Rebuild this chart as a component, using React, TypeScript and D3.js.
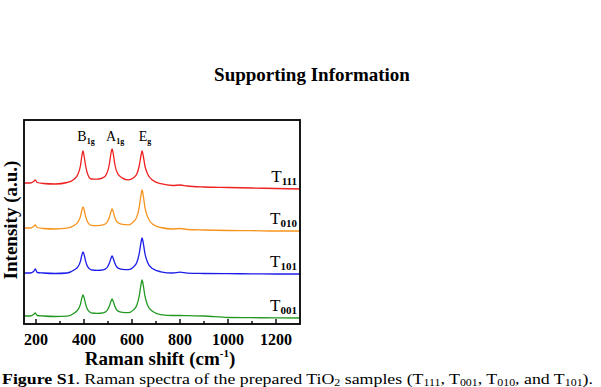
import React from 'react';
import * as d3 from 'd3';

// Raman shift grid (cm-1) shared by every spectrum
const shifts = [
  150, 175, 190, 197, 205, 230, 280, 330, 360, 375, 385, 391, 396, 401, 407, 415,
  430, 455, 480, 495, 505, 512, 517, 522, 529, 540, 560, 585, 605, 620, 630, 637,
  642, 647, 654, 665, 685, 720, 770, 800, 830, 900, 1000, 1100, 1200, 1300,
];

// stacked intensities (a.u.), offsets included
const t111 = [
  141, 141, 142.5, 144, 141.5, 140.5, 140, 141.5, 145, 150, 158, 168, 173, 167, 158, 150,
  145, 144.8, 146.3, 150.5, 159, 170, 175, 170, 159, 150.5, 145.9, 144.1, 146, 150, 158, 168,
  173, 168, 158, 150, 144, 140.3, 138.5, 139, 138, 137, 136.5, 136, 135.5, 135,
];
const t010 = [
  96, 96, 97.5, 99, 96.5, 95.5, 95, 95.8, 98.7, 102, 107.3, 113.8, 117, 113.8, 107.3, 102,
  98.7, 98.4, 99.1, 101.4, 106.2, 112.1, 115, 112.1, 106.2, 101.4, 99.6, 99.2, 101.9, 107.1, 116.7, 128.2,
  134, 128.2, 116.7, 107.1, 100, 96.5, 95, 95.5, 94.5, 94, 93.5, 93.3, 93, 93,
];
const t101 = [
  51, 51, 52.5, 55, 51.5, 51, 50.5, 51, 54.2, 57.3, 62.6, 68.9, 72, 68.9, 62.6, 57.3,
  54.2, 53.7, 54.2, 56.1, 60.4, 65.5, 68, 65.5, 60.4, 56.1, 54.6, 54.4, 56.8, 61.5, 70.3, 80.8,
  86, 80.8, 70.3, 61.5, 55.4, 52.2, 51, 51.8, 50.8, 50.5, 50.3, 50.2, 50, 50,
];
const t001 = [
  8, 8, 9.5, 11, 8.5, 8, 7.5, 7.8, 11, 14.3, 19.6, 25.9, 29, 25.9, 19.6, 14.3,
  11.2, 10.7, 11.2, 13.1, 17.4, 22.5, 25, 22.5, 17.4, 13.1, 11.6, 11.4, 13.9, 18.8, 27.8, 38.6,
  44, 38.6, 27.8, 18.8, 12.7, 9.4, 8.5, 8.5, 8.3, 8, 6.5, 6.3, 6.1, 6,
];

const sampleSubs = ['111', '010', '101', '001'];
const sampleColors = ['#ee2020', '#f7941d', '#1c1ce8', '#229922'];
const sampleData = [t111, t010, t101, t001];

// anatase modes
const modeNames = ['B', 'A', 'E'];
const modeSubs = ['1g', '1g', 'g'];
const modeShifts = [396, 517, 642];

const majorTicks = [200, 400, 600, 800, 1000, 1200];
const minorTicks = [300, 500, 700, 900, 1100];

const serif = '"Liberation Serif", "Times New Roman", serif';

const W = 601;
const H = 387;
const plot = { left: 24, right: 300, top: 120, bottom: 324 };

export default function App() {
  const x = d3.scaleLinear().domain([150, 1300]).range([plot.left, plot.right]);
  const y = d3.scaleLinear().domain([0, 204]).range([plot.bottom, plot.top]);

  const line = d3
    .line<number>()
    .x((_, i) => x(shifts[i]))
    .y((d) => y(d))
    .curve(d3.curveMonotoneX);

  return (
    <div style={{ position: 'fixed', left: 0, top: 0 }}>
      <svg width={W} height={H} style={{ display: 'block', background: '#fff' }} fontFamily={serif}>
        <text x={312} y={81} textAnchor="middle" fontSize={19} fontWeight="bold">
          Supporting Information
        </text>

        {sampleData.map((vals, i) => (
          <path key={i} d={line(vals) || ''} fill="none" stroke={sampleColors[i]} strokeWidth={1.3} />
        ))}

        {sampleData.map((vals, i) => {
          const ty = y(vals[vals.length - 1]) - 7;
          return (
            <text key={i} x={297} y={ty} textAnchor="end" fontSize={17}>
              T
              <tspan fontSize={11} fontWeight="bold" dy={3}>
                {sampleSubs[i]}
              </tspan>
            </text>
          );
        })}

        {modeNames.map((m, i) => (
          <text key={m} x={x(modeShifts[i]) + 3} y={141} textAnchor="middle" fontSize={14}>
            {m}
            <tspan fontSize={8} fontWeight="bold" dy={3}>
              {modeSubs[i]}
            </tspan>
          </text>
        ))}

        <rect
          x={plot.left}
          y={plot.top}
          width={plot.right - plot.left}
          height={plot.bottom - plot.top}
          fill="none"
          stroke="#000"
          strokeWidth={1.8}
        />

        {majorTicks.map((t) => (
          <g key={t}>
            <line x1={x(t)} x2={x(t)} y1={plot.bottom} y2={plot.bottom - 5} stroke="#000" strokeWidth={1.4} />
            <text x={x(t)} y={345} textAnchor="middle" fontSize={16} fontWeight="bold">
              {t}
            </text>
          </g>
        ))}
        {minorTicks.map((t) => (
          <line key={t} x1={x(t)} x2={x(t)} y1={plot.bottom} y2={plot.bottom - 3} stroke="#000" strokeWidth={1.4} />
        ))}

        <text x={160} y={365} textAnchor="middle" fontSize={19} fontWeight="bold">
          Raman shift (cm
          <tspan fontSize={11} dy={-8}>-1</tspan>
          <tspan dy={8}>)</tspan>
        </text>

        <text
          transform={`translate(17,${(plot.top + plot.bottom) / 2 - 2}) rotate(-90)`}
          textAnchor="middle"
          fontSize={19}
          fontWeight="bold"
        >
          Intensity (a.u.)
        </text>

        <text x={2} y={384} fontSize={15} textLength={591} lengthAdjust="spacingAndGlyphs">
          <tspan fontWeight="bold">Figure S1</tspan>. Raman spectra of the prepared TiO
          <tspan fontSize={10} dy={1.5}>2</tspan>
          <tspan dy={-1.5}> samples (T</tspan>
          <tspan fontSize={10} dy={1.5}>111</tspan>
          <tspan dy={-1.5}>, T</tspan>
          <tspan fontSize={10} dy={1.5}>001</tspan>
          <tspan dy={-1.5}>, T</tspan>
          <tspan fontSize={10} dy={1.5}>010</tspan>
          <tspan dy={-1.5}>, and T</tspan>
          <tspan fontSize={10} dy={1.5}>101</tspan>
          <tspan dy={-1.5}>).</tspan>
        </text>
      </svg>
    </div>
  );
}
